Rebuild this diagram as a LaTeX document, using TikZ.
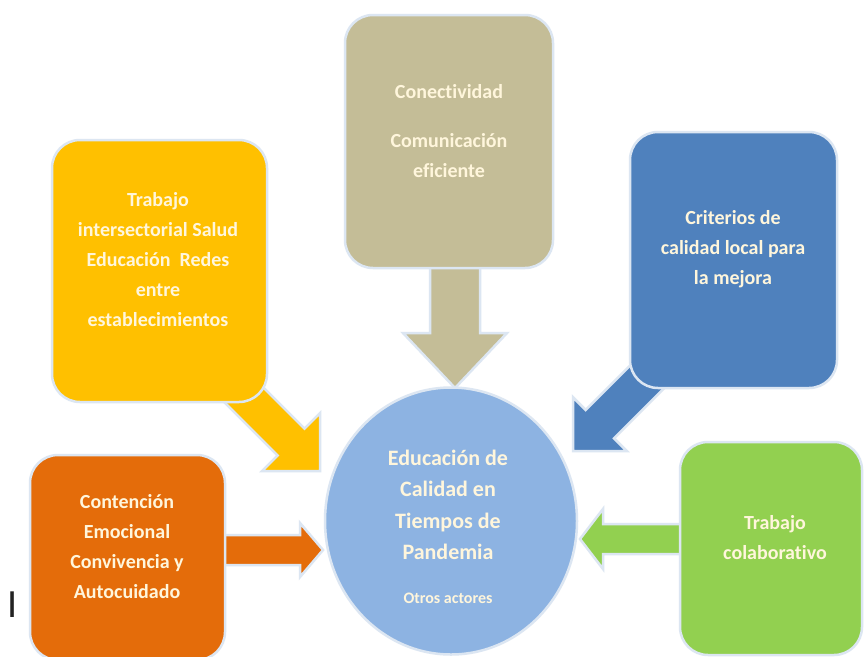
\documentclass[tikz,border=0pt]{standalone}
\usepackage{fontspec}
\setmainfont{Carlito}[Ligatures={NoCommon}]
\usetikzlibrary{shapes.geometric}
\definecolor{tanc}{HTML}{C4BD97}
\definecolor{yellowc}{HTML}{FFC000}
\definecolor{bluec}{HTML}{4F81BD}
\definecolor{orangec}{HTML}{E46C0A}
\definecolor{greenc}{HTML}{92D050}
\definecolor{corec}{HTML}{8DB3E2}
\definecolor{rimc}{HTML}{DCE6F2}
\definecolor{txtc}{HTML}{FFF6DC}
\definecolor{strayc}{HTML}{222222}
\begin{document}
\begin{tikzpicture}[x=1pt,y=-1pt,
  blockarrow/.style={draw=rimc, line width=2.5pt, line join=miter},
  card/.style={rectangle, rounded corners=28pt, draw=rimc, line width=2.5pt, inner sep=0pt},
  lbl/.style={text=txtc, font=\bfseries\fontsize{20}{30}\selectfont, align=center, inner sep=0pt},
  corelbl/.style={text=txtc, font=\bfseries\fontsize{22}{31.5}\selectfont, align=center, inner sep=0pt}]
\useasboundingbox (0,0) rectangle (864,656);
\fill[white] (0,0) rectangle (864,656);

% block arrows (drawn first, the cards cover their tails)
\begin{scope}[shift={(455,388)}, rotate=-90]
\filldraw[blockarrow, fill=tanc] (0,0) -- (-55,52) -- (-55,25) -- (-130,25) -- (-130,-25) -- (-55,-25) -- (-55,-52) -- cycle;
\end{scope}
\begin{scope}[shift={(320,471)}, rotate=-45]
\filldraw[blockarrow, fill=yellowc] (0,0) -- (-41,41) -- (-41,19) -- (-140,19) -- (-140,-19) -- (-41,-19) -- (-41,-41) -- cycle;
\end{scope}
\begin{scope}[shift={(573,451)}, rotate=-135]
\filldraw[blockarrow, fill=bluec] (0,0) -- (-38,38) -- (-38,20) -- (-140,20) -- (-140,-20) -- (-38,-20) -- (-38,-38) -- cycle;
\end{scope}
\begin{scope}[shift={(323,550)}]
\filldraw[blockarrow, fill=orangec] (0,0) -- (-23,27) -- (-23,15) -- (-110,15) -- (-110,-15) -- (-23,-15) -- (-23,-27) -- cycle;
\end{scope}
\begin{scope}[shift={(580,539)}, rotate=180]
\filldraw[blockarrow, fill=greenc] (0,0) -- (-23,30) -- (-23,15) -- (-110,15) -- (-110,-15) -- (-23,-15) -- (-23,-30) -- cycle;
\end{scope}

% cards
\node[card, fill=tanc, minimum width=208pt, minimum height=253pt] (conect) at (449,141.5) {};
\node[card, fill=yellowc, minimum width=215pt, minimum height=262pt] (inter) at (159.5,271) {};
\node[card, fill=bluec, minimum width=207pt, minimum height=256pt] (crit) at (733.5,260) {};
\node[card, fill=orangec, minimum width=195pt, minimum height=205pt] (emo) at (127.5,557.5) {};
\node[card, fill=greenc, minimum width=182pt, minimum height=213pt] (colab) at (771,548.5) {};

% centre
\node[ellipse, draw=rimc, line width=2.5pt, fill=corec, minimum width=252pt, minimum height=267pt, inner sep=0pt] (core) at (451,521) {};

% texts
\node[lbl] (t1) at (449,92) {Conectividad};
\node[lbl] (t2) at (449,156) {Comunicación\\eficiente};
\node[lbl] (t3) at (158,260) {Trabajo\\intersectorial Salud\\Educación~ Redes\\entre\\establecimientos};
\node[lbl] (t4) at (733,249) {Criterios de\\calidad local para\\la mejora};
\node[lbl] (t5) at (127,547) {Contención\\Emocional\\Convivencia y\\Autocuidado};
\node[lbl] (t6) at (775,538) {Trabajo\\colaborativo};
\node[corelbl] (t7) at (448,505) {Educación de\\Calidad en\\Tiempos de\\Pandemia};
\node[text=txtc, font=\bfseries\fontsize{16}{20}\selectfont, inner sep=0pt] (t8) at (448,598) {Otros actores};
\node[text=strayc, font=\fontsize{40}{40}\selectfont, inner sep=0pt] (stray) at (13,605) {I};
\end{tikzpicture}
\end{document}
